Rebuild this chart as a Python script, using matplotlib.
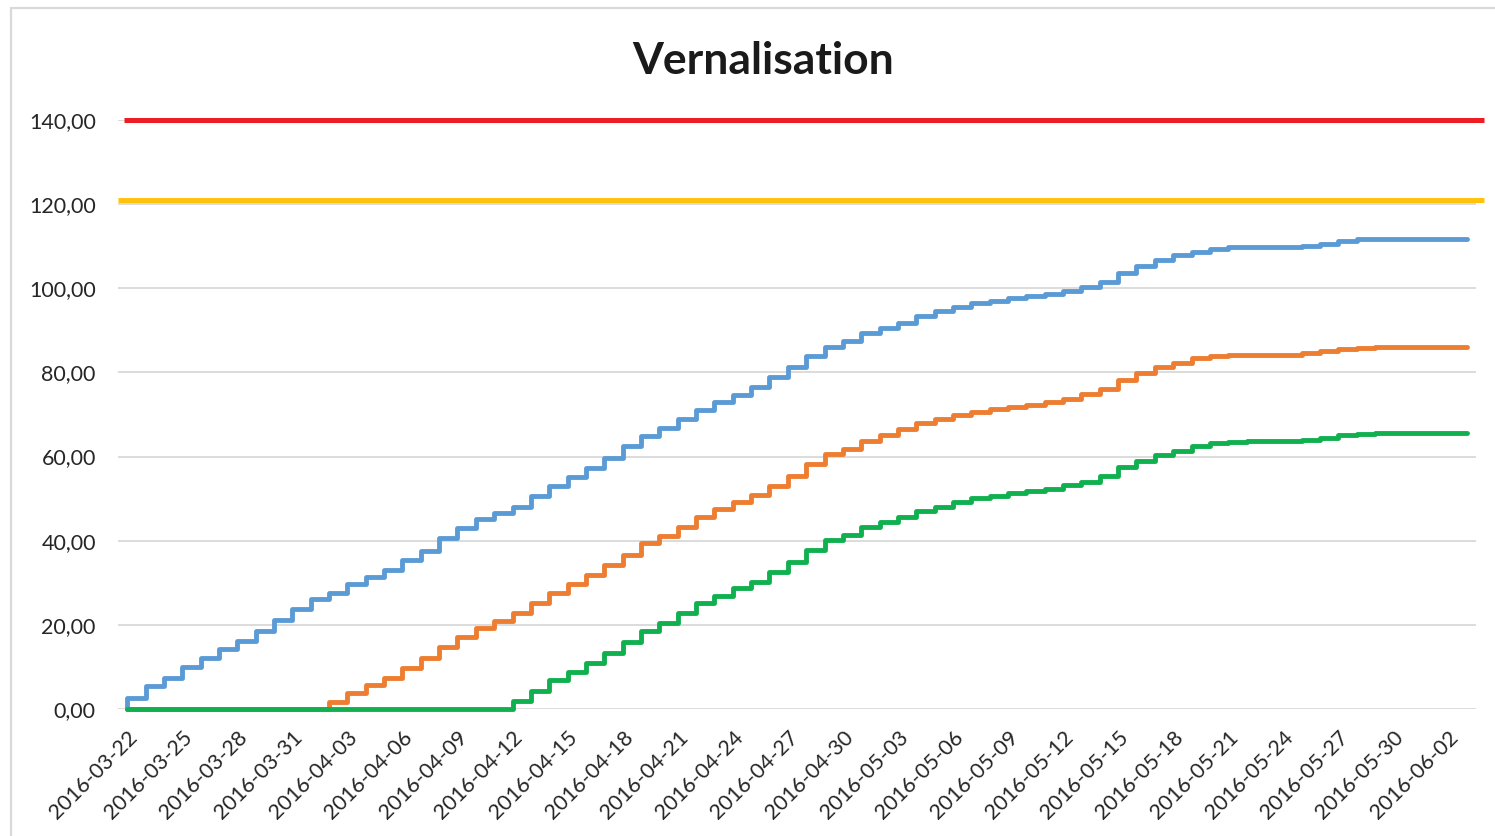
import numpy as np
import pandas as pd
import matplotlib
matplotlib.use("Agg")
import matplotlib.pyplot as plt
import matplotlib.dates as mdates
from matplotlib.patches import Rectangle

plt.rcParams['font.family'] = ['Lato', 'DejaVu Sans']

# ---- data ----
title = "Vernalisation"
start_date = "2016-03-22"
n_days = 74
start_value = 0.0
seuil_rouge = 140.0
seuil_jaune = 121.0

serie_bleue = [2.6, 5.5, 7.4, 10.0, 12.1, 14.3, 16.2, 18.5, 21.2, 23.8,
               26.1, 27.6, 29.7, 31.4, 33.0, 35.4, 37.6, 40.6, 43.0, 45.1,
               46.5, 48.1, 50.7, 53.0, 55.2, 57.2, 59.7, 62.4, 65.0, 66.7,
               69.0, 71.1, 73.0, 74.7, 76.6, 79.0, 81.4, 83.9, 86.1, 87.5,
               89.3, 90.5, 91.8, 93.4, 94.6, 95.5, 96.4, 97.0, 97.6, 98.2,
               98.6, 99.4, 100.4, 101.4, 103.7, 105.3, 106.7, 107.8, 108.7, 109.3,
               109.7, 109.8, 109.8, 109.8, 110.1, 110.6, 111.2, 111.6, 111.8, 111.8,
               111.8, 111.8, 111.8, 111.8]
serie_orange = [0, 0, 0, 0, 0, 0, 0, 0, 0, 0,
                0, 1.7, 3.7, 5.7, 7.3, 9.7, 12.2, 14.8, 17.0, 19.2,
                20.9, 22.7, 25.1, 27.5, 29.7, 31.9, 34.2, 36.6, 39.4, 41.1,
                43.3, 45.6, 47.5, 49.3, 50.9, 53.1, 55.4, 58.2, 60.5, 61.8,
                63.7, 65.1, 66.5, 67.9, 68.9, 69.9, 70.7, 71.2, 71.9, 72.3,
                72.9, 73.8, 74.8, 76.0, 78.2, 79.9, 81.4, 82.2, 83.4, 83.9,
                84.1, 84.2, 84.2, 84.2, 84.5, 85.0, 85.6, 85.9, 86.0, 86.0,
                86.0, 86.0, 86.0, 86.0]
serie_verte = [0, 0, 0, 0, 0, 0, 0, 0, 0, 0,
               0, 0, 0, 0, 0, 0, 0, 0, 0, 0,
               0, 1.9, 4.3, 6.9, 8.9, 10.9, 13.4, 16.0, 18.5, 20.4,
               22.7, 25.1, 26.9, 28.7, 30.3, 32.6, 35.0, 37.8, 40.2, 41.4,
               43.2, 44.4, 45.7, 47.1, 48.1, 49.3, 50.2, 50.7, 51.3, 51.7,
               52.3, 53.2, 54.0, 55.4, 57.6, 59.0, 60.4, 61.4, 62.4, 63.2,
               63.5, 63.6, 63.6, 63.6, 63.9, 64.4, 65.1, 65.4, 65.5, 65.5,
               65.5, 65.5, 65.5, 65.5]
y_ticks = [0, 20, 40, 60, 80, 100, 120, 140]

# ---- figure ----
W, H = 1495, 836
fig = plt.figure(figsize=(W / 100, H / 100), dpi=100)
fig.patch.set_facecolor('white')

# chart-area border
fig.add_artist(Rectangle((11 / W, 0 - 0.01), 1.1, 1 - 8 / H + 0.01,
                         transform=fig.transFigure, fill=False,
                         edgecolor='#d9d9d9', linewidth=1.6))

left, right = 118 / W, 1476 / W
bottom, top = 1 - 709 / H, 1 - 120 / H
ax = fig.add_axes([left, bottom, right - left, top - bottom])

dates = pd.date_range(start_date, periods=n_days)
x = mdates.date2num(dates)
xs = np.concatenate([[x[0]], x])

for vals, col in [(serie_bleue, '#5B9BD5'), (serie_orange, '#ED7D31'), (serie_verte, '#11B04F')]:
    ys = np.concatenate([[start_value], vals])
    ax.plot(xs, ys, drawstyle='steps-post', color=col, linewidth=3.5,
            solid_joinstyle='round', solid_capstyle='round', zorder=3,
            clip_on=False)

ax.axhline(seuil_jaune, xmin=0.0, xmax=1.006, color='#FFC20E', linewidth=3.6,
           clip_on=False, zorder=4, solid_capstyle='butt')
ax.axhline(seuil_rouge, xmin=0.0045, xmax=1.006, color='#EE1D23', linewidth=3.6,
           clip_on=False, zorder=4, solid_capstyle='butt')

ax.set_xlim(x[0] - 0.5, x[-1] + 0.5)
ax.set_ylim(0, 140)
ax.set_yticks(y_ticks)
ax.set_yticklabels([f"{v:.2f}".replace('.', ',') for v in y_ticks])
ax.yaxis.grid(True, color='#d9d9d9', linewidth=1.3)
ax.set_axisbelow(True)

tick_dates = x[::3]
ax.set_xticks(tick_dates)
ax.set_xticklabels([d.strftime('%Y-%m-%d') for d in dates[::3]],
                   rotation=45, ha='right', rotation_mode='anchor')

for s in ax.spines.values():
    s.set_visible(False)
ax.tick_params(axis='both', length=0, labelsize=15.5, colors='#262626')
ax.tick_params(axis='y', pad=16)
ax.tick_params(axis='x', pad=13)

fig.text(763 / W, 1 - 61 / H, title, ha='center', va='center',
         fontsize=32, fontweight='bold', color='#1a1a1a')

fig.savefig('out.png', dpi=100)
